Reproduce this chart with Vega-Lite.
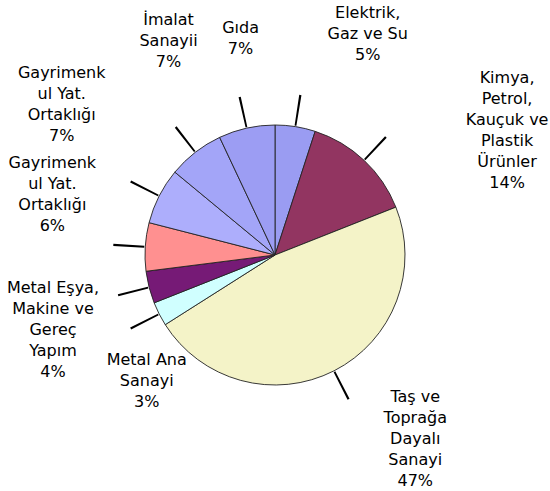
{
  "$schema": "https://vega.github.io/schema/vega-lite/v6.json",
  "width": 550,
  "height": 472,
  "autosize": "none",
  "padding": {"top": 19, "bottom": 0, "left": 0, "right": 0},
  "background": "white",
  "config": {"view": {"stroke": null}},
  "data": {
    "values": [
      {"order": 1, "sector": "Elektrik, Gaz ve Su", "label": "Elektrik,\nGaz ve Su\n5%", "value": 5},
      {"order": 2, "sector": "Kimya, Petrol, Kauçuk ve Plastik Ürünler", "label": "Kimya,\nPetrol,\nKauçuk ve\nPlastik\nÜrünler\n14%", "value": 14},
      {"order": 3, "sector": "Taş ve Toprağa Dayalı Sanayi", "label": "Taş ve\nToprağa\nDayalı\nSanayi\n47%", "value": 47},
      {"order": 4, "sector": "Metal Ana Sanayi", "label": "Metal Ana\nSanayi\n3%", "value": 3},
      {"order": 5, "sector": "Metal Eşya, Makine ve Gereç Yapım", "label": "Metal Eşya,\nMakine ve\nGereç\nYapım\n4%", "value": 4},
      {"order": 6, "sector": "Gayrimenkul Yat. Ortaklığı (6%)", "label": "Gayrimenk\nul Yat.\nOrtaklığı\n6%", "value": 6},
      {"order": 7, "sector": "Gayrimenkul Yat. Ortaklığı (7%)", "label": "Gayrimenk\nul Yat.\nOrtaklığı\n7%", "value": 7},
      {"order": 8, "sector": "İmalat Sanayii", "label": "İmalat\nSanayii\n7%", "value": 7},
      {"order": 9, "sector": "Gıda", "label": "Gıda\n7%", "value": 7}
    ]
  },
  "transform": [
    {"stack": "value", "groupby": [], "sort": [{"field": "order", "order": "ascending"}], "as": ["v0", "v1"]},
    {"calculate": "(datum.v0 + datum.v1) / 2", "as": "mid"},
    {"calculate": "datum.mid - 0.11", "as": "m0"},
    {"calculate": "datum.mid + 0.11", "as": "m1"}
  ],
  "layer": [
    {
      "mark": {"type": "arc", "outerRadius": 130, "stroke": "#222222", "strokeWidth": 0.9},
      "encoding": {
        "theta": {"field": "v0", "type": "quantitative", "scale": {"domain": [0, 100]}},
        "theta2": {"field": "v1"},
        "color": {
          "field": "order",
          "type": "nominal",
          "legend": null,
          "scale": {
            "domain": [1, 2, 3, 4, 5, 6, 7, 8, 9],
            "range": ["#9a9cf2", "#923561", "#f4f3c8", "#d0ffff", "#761a76", "#ff9090", "#adaefc", "#a3a5f8", "#9c9df3"]
          }
        }
      }
    },
    {
      "mark": {"type": "arc", "innerRadius": 131, "outerRadius": 162, "color": "#000000"},
      "encoding": {
        "theta": {"field": "m0", "type": "quantitative", "scale": {"domain": [0, 100]}},
        "theta2": {"field": "m1"}
      }
    },
    {"transform": [{"filter": "datum.order == 1"}], "mark": {"type": "text", "radius": 190, "dx": 63, "dy": -54, "lineBreak": "\n", "font": "DejaVu Sans", "fontSize": 16, "lineHeight": 21, "align": "center", "baseline": "middle", "color": "#000000"}, "encoding": {"theta": {"field": "mid", "type": "quantitative", "scale": {"domain": [0, 100]}}, "text": {"field": "label"}}},
    {"transform": [{"filter": "datum.order == 2"}], "mark": {"type": "text", "radius": 190, "dx": 102, "dy": -38, "lineBreak": "\n", "font": "DejaVu Sans", "fontSize": 16, "lineHeight": 21, "align": "center", "baseline": "middle", "color": "#000000"}, "encoding": {"theta": {"field": "mid", "type": "quantitative", "scale": {"domain": [0, 100]}}, "text": {"field": "label"}}},
    {"transform": [{"filter": "datum.order == 3"}], "mark": {"type": "text", "radius": 190, "dx": 54, "dy": -27, "lineBreak": "\n", "font": "DejaVu Sans", "fontSize": 16, "lineHeight": 21, "align": "center", "baseline": "middle", "color": "#000000"}, "encoding": {"theta": {"field": "mid", "type": "quantitative", "scale": {"domain": [0, 100]}}, "text": {"field": "label"}}},
    {"transform": [{"filter": "datum.order == 4"}], "mark": {"type": "text", "radius": 190, "dx": 41, "dy": 19, "lineBreak": "\n", "font": "DejaVu Sans", "fontSize": 16, "lineHeight": 21, "align": "center", "baseline": "middle", "color": "#000000"}, "encoding": {"theta": {"field": "mid", "type": "quantitative", "scale": {"domain": [0, 100]}}, "text": {"field": "label"}}},
    {"transform": [{"filter": "datum.order == 5"}], "mark": {"type": "text", "radius": 190, "dx": -38, "dy": -14, "lineBreak": "\n", "font": "DejaVu Sans", "fontSize": 16, "lineHeight": 21, "align": "center", "baseline": "middle", "color": "#000000"}, "encoding": {"theta": {"field": "mid", "type": "quantitative", "scale": {"domain": [0, 100]}}, "text": {"field": "label"}}},
    {"transform": [{"filter": "datum.order == 6"}], "mark": {"type": "text", "radius": 190, "dx": -33, "dy": -80, "lineBreak": "\n", "font": "DejaVu Sans", "fontSize": 16, "lineHeight": 21, "align": "center", "baseline": "middle", "color": "#000000"}, "encoding": {"theta": {"field": "mid", "type": "quantitative", "scale": {"domain": [0, 100]}}, "text": {"field": "label"}}},
    {"transform": [{"filter": "datum.order == 7"}], "mark": {"type": "text", "radius": 190, "dx": -44, "dy": -96, "lineBreak": "\n", "font": "DejaVu Sans", "fontSize": 16, "lineHeight": 21, "align": "center", "baseline": "middle", "color": "#000000"}, "encoding": {"theta": {"field": "mid", "type": "quantitative", "scale": {"domain": [0, 100]}}, "text": {"field": "label"}}},
    {"transform": [{"filter": "datum.order == 8"}], "mark": {"type": "text", "radius": 190, "dx": 10, "dy": -85, "lineBreak": "\n", "font": "DejaVu Sans", "fontSize": 16, "lineHeight": 21, "align": "center", "baseline": "middle", "color": "#000000"}, "encoding": {"theta": {"field": "mid", "type": "quantitative", "scale": {"domain": [0, 100]}}, "text": {"field": "label"}}},
    {"transform": [{"filter": "datum.order == 9"}], "mark": {"type": "text", "radius": 190, "dx": 7, "dy": -42, "lineBreak": "\n", "font": "DejaVu Sans", "fontSize": 16, "lineHeight": 21, "align": "center", "baseline": "middle", "color": "#000000"}, "encoding": {"theta": {"field": "mid", "type": "quantitative", "scale": {"domain": [0, 100]}}, "text": {"field": "label"}}}
  ]
}
